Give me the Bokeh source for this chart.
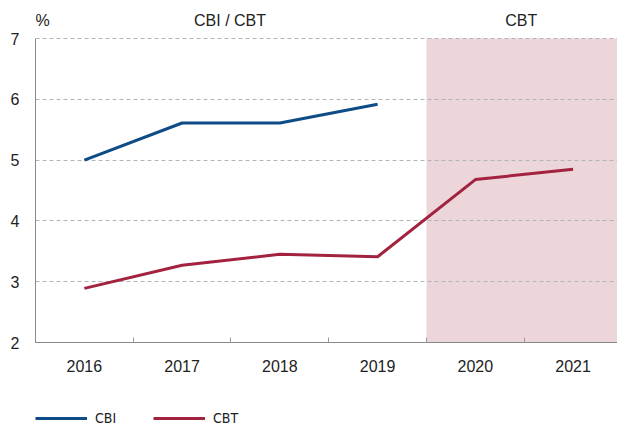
from bokeh.plotting import figure
from bokeh.layouts import column
from bokeh.models import (Range1d, FixedTicker, BoxAnnotation, Label, Legend, LegendItem)
from bokeh.embed import file_html
from bokeh.resources import INLINE

years = [2016, 2017, 2018, 2019, 2020, 2021]
cbi_years = [2016, 2017, 2018, 2019]
cbi = [5.0, 5.61, 5.61, 5.92]
cbt = [2.89, 3.27, 3.45, 3.41, 4.68, 4.85]
y_ticks = [2, 3, 4, 5, 6, 7]
header_left = "CBI / CBT"
header_right = "CBT"
unit_label = "%"
series_names = ["CBI", "CBT"]
shade_start = 2019.5

BLUE = "#0d4c86"
RED = "#a2223f"
SHADE = "#ecd6da"
FONT = "Liberation Sans"
NARROW = "'Liberation Sans Narrow', 'DejaVu Sans Condensed', 'Liberation Sans'"

p = figure(width=617, height=392, output_backend="svg", toolbar_location=None,
           x_range=Range1d(2015.5, 2021.454), y_range=Range1d(2, 7.625),
           min_border_left=35, min_border_right=0, min_border_top=0, min_border_bottom=50)
p.outline_line_color = None
p.background_fill_color = "white"

# shaded forecast region
p.add_layout(BoxAnnotation(left=shade_start, top=y_ticks[-1], fill_color=SHADE, fill_alpha=1.0,
                           line_alpha=0, level="image"))

# axes
p.xaxis.ticker = FixedTicker(ticks=years, minor_ticks=[y - 0.5 for y in years] + [years[-1] + 0.5])
p.xaxis.major_tick_in = 0
p.xaxis.major_tick_out = 0
p.xaxis.minor_tick_in = 5
p.xaxis.minor_tick_out = 0
p.xaxis.minor_tick_line_color = "#999999"
p.xaxis.axis_line_color = "#888888"
p.xaxis.major_label_standoff = 17
p.xaxis.major_label_text_font = FONT
p.xaxis.major_label_text_font_size = "16px"
p.xaxis.major_label_text_color = "#222222"

p.yaxis.ticker = FixedTicker(ticks=y_ticks)
p.yaxis.bounds = (y_ticks[0], y_ticks[-1])
p.yaxis.major_tick_in = 0
p.yaxis.major_tick_out = 0
p.yaxis.minor_tick_line_color = None
p.yaxis.axis_line_color = "#888888"
p.yaxis.major_label_standoff = 16
p.yaxis.major_label_text_font = FONT
p.yaxis.major_label_text_font_size = "16px"
p.yaxis.major_label_text_color = "#222222"

p.xgrid.grid_line_color = None
p.ygrid.ticker = FixedTicker(ticks=y_ticks[1:])
p.ygrid.grid_line_color = "#b4b4b4"
p.ygrid.grid_line_dash = "4 3"
p.ygrid.grid_line_width = 1

# lines
p.line(cbi_years, cbi, line_color=BLUE, line_width=3)
p.line(years, cbt, line_color=RED, line_width=3)

# headers
for txt, x, align in [(unit_label, 2015.5, "left"), (header_left, 2017.49, "center"),
                      (header_right, 2020.47, "center")]:
    p.add_layout(Label(x=x, y=7.3, text=txt, text_align=align, text_baseline="middle",
                       text_font=FONT, text_font_size="16px", text_color="#222222"))

# legend strip (series drawn out of view; only legend glyphs show)
lg = figure(width=617, height=34, output_backend="svg", toolbar_location=None,
            x_range=Range1d(0, 1), y_range=Range1d(0, 1),
            x_axis_location=None, y_axis_location=None,
            min_border_left=0, min_border_right=0, min_border_top=0, min_border_bottom=0)
lg.outline_line_color = None
lg.xgrid.grid_line_color = None
lg.ygrid.grid_line_color = None
k_cbi = lg.line(cbi_years, cbi, line_color=BLUE, line_width=3)
k_cbt = lg.line(years, cbt, line_color=RED, line_width=3)
legend = Legend(items=[LegendItem(label=series_names[0], renderers=[k_cbi]),
                       LegendItem(label=series_names[1], renderers=[k_cbt])],
                orientation="horizontal", location=(0, 0),
                glyph_width=52, glyph_height=12, label_height=12, label_width=58,
                label_standoff=8, spacing=0, padding=0, margin=0,
                border_line_color=None, background_fill_alpha=0,
                label_text_font=NARROW, label_text_font_size="14px",
                label_text_color="#222222")
lg.add_layout(legend, "center")

open("out.html", "w").write(file_html(column(p, lg, spacing=0), INLINE))
